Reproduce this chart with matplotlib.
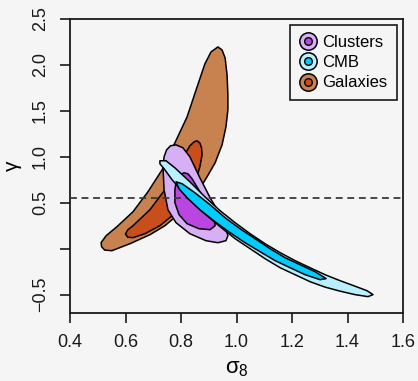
import matplotlib
matplotlib.use("Agg")
import matplotlib.pyplot as plt
from matplotlib.lines import Line2D

plt.rcParams['font.family'] = ['Liberation Sans', 'DejaVu Sans']

# contour outlines (sigma_8, gamma)
gal_outer_x = [0.933, 0.948, 0.959, 0.966, 0.969, 0.969, 0.962, 0.948, 0.923, 0.894,
               0.861, 0.825, 0.789, 0.742, 0.688, 0.616, 0.551, 0.525, 0.514, 0.512, 0.530,
               0.569, 0.627, 0.681, 0.732, 0.778, 0.822, 0.858, 0.886, 0.908]
gal_outer_y = [2.196, 2.163, 2.076, 1.891, 1.674, 1.511, 1.326, 1.130, 0.935, 0.783,
               0.620, 0.478, 0.370, 0.250, 0.152, 0.054, -0.022, -0.015, 0.020, 0.065, 0.141,
               0.239, 0.402, 0.620, 0.859, 1.152, 1.435, 1.761, 2.011, 2.141]
gal_inner_x = [0.858, 0.868, 0.874, 0.876, 0.868, 0.854, 0.829, 0.796, 0.768, 0.724, 0.670,
               0.627, 0.608, 0.600, 0.608, 0.627, 0.688, 0.750, 0.796, 0.832, 0.848]
gal_inner_y = [1.174, 1.150, 1.100, 1.022, 0.891, 0.750, 0.609, 0.467, 0.359, 0.250, 0.163,
               0.120, 0.125, 0.160, 0.205, 0.250, 0.424, 0.674, 0.935, 1.120, 1.165]

clu_outer_x = [0.782, 0.762, 0.748, 0.739, 0.735, 0.739, 0.753, 0.782, 0.832, 0.890, 0.933,
               0.962, 0.969, 0.959, 0.937, 0.905, 0.868, 0.832, 0.807]
clu_outer_y = [1.130, 1.120, 1.075, 1.000, 0.891, 0.641, 0.424, 0.283, 0.163, 0.087, 0.065,
               0.087, 0.141, 0.250, 0.391, 0.554, 0.772, 1.000, 1.098]
clu_inner_x = [0.811, 0.795, 0.783, 0.778, 0.778, 0.793, 0.822, 0.865, 0.905, 0.923, 0.919,
               0.897, 0.868, 0.840, 0.825]
clu_inner_y = [0.826, 0.800, 0.740, 0.641, 0.500, 0.370, 0.272, 0.217, 0.207, 0.250, 0.337,
               0.467, 0.620, 0.761, 0.815]

cmb_outer_x = [0.724, 0.746, 0.778, 0.832, 0.886, 0.941, 0.995, 1.049, 1.103, 1.157,
               1.211, 1.265, 1.319, 1.373, 1.427, 1.470, 1.492,
               1.474, 1.427, 1.373, 1.319, 1.265, 1.211, 1.157, 1.103, 1.049, 0.995,
               0.941, 0.886, 0.832, 0.796, 0.768, 0.739, 0.724]
cmb_outer_y = [0.957, 0.957, 0.880, 0.728, 0.565, 0.413, 0.283, 0.163, 0.054, -0.043,
               -0.130, -0.207, -0.283, -0.348, -0.408, -0.457, -0.500,
               -0.522, -0.500, -0.462, -0.418, -0.359, -0.283, -0.207, -0.109, 0.000, 0.109,
               0.239, 0.380, 0.533, 0.652, 0.750, 0.870, 0.924]
cmb_inner_x = [0.782, 0.804, 0.850, 0.905, 0.959, 1.013, 1.067, 1.121, 1.175, 1.229,
               1.283, 1.323, 1.301, 1.247, 1.193, 1.139, 1.085, 1.031, 0.977, 0.923,
               0.868, 0.822, 0.793]
cmb_inner_y = [0.728, 0.707, 0.609, 0.478, 0.337, 0.217, 0.109, 0.000, -0.098, -0.174,
               -0.250, -0.326, -0.337, -0.283, -0.207, -0.130, -0.033, 0.065, 0.174, 0.293,
               0.424, 0.554, 0.652]

gamma_ref = 0.55

series = ['Clusters', 'CMB', 'Galaxies']
outer_colors = ['#D7AFF5', '#B9F0FF', '#C8824F']
inner_colors = ['#B946E1', '#00CCFF', '#C84E1C']

xticks = [0.4, 0.6, 0.8, 1.0, 1.2, 1.4, 1.6]
yticks = [-0.5, 0.0, 0.5, 1.0, 1.5, 2.0, 2.5]
ytick_labels = ['\u22120.5', '', '0.5', '1.0', '1.5', '2.0', '2.5']

bg = '#F5F5F5'
fig = plt.figure(figsize=(4.18, 3.81), dpi=100, facecolor=bg)
ax = fig.add_axes([70 / 418, 1 - 313 / 381, 333 / 418, 294 / 381], facecolor=bg)

kw = dict(edgecolor='black', linewidth=1.1, joinstyle='round')
ax.fill(gal_outer_x, gal_outer_y, facecolor=outer_colors[2], zorder=1, **kw)
ax.fill(gal_inner_x, gal_inner_y, facecolor=inner_colors[2], zorder=2, **kw)
ax.fill(clu_outer_x, clu_outer_y, facecolor=outer_colors[0], zorder=3, **kw)
ax.fill(clu_inner_x, clu_inner_y, facecolor=inner_colors[0], zorder=4, **kw)
ax.axhline(gamma_ref, color='#3a3a3a', lw=1.3, dashes=(3.8, 2.6), zorder=5)
ax.fill(cmb_outer_x, cmb_outer_y, facecolor=outer_colors[1], zorder=6, **kw)
ax.fill(cmb_inner_x, cmb_inner_y, facecolor=inner_colors[1], zorder=7, **kw)

ax.set_xlim(0.4, 1.6)
ax.set_ylim(-0.7, 2.5)
ax.set_xticks(xticks)
ax.set_xticklabels([f'{v:.1f}' for v in xticks], fontsize=13)
ax.set_yticks(yticks)
ax.set_yticklabels(ytick_labels, fontsize=13, rotation=90, va='center')
ax.tick_params(direction='out', length=7.2, width=1.2, pad=8, colors='#1a1a1a')
for s in ax.spines.values():
    s.set_linewidth(1.3)
    s.set_color('#1a1a1a')

ax.set_xlabel(r'$\mathregular{\sigma_8}$', fontsize=16, labelpad=5)
ax.set_ylabel('\u03b3', fontsize=15, labelpad=7)

handles = []
for oc, ic in zip(outer_colors, inner_colors):
    h_out = Line2D([], [], marker='o', ls='none', ms=12.5, mfc=oc, mec='black', mew=1.1)
    h_in = Line2D([], [], marker='o', ls='none', ms=5.5, mfc=ic, mec='black', mew=1.0)
    handles.append((h_out, h_in))
leg = ax.legend(handles, series, loc='upper right', fontsize=12, frameon=True,
                fancybox=False, edgecolor='#1a1a1a', facecolor=bg, framealpha=1,
                handlelength=0.9, handletextpad=0.4, borderpad=0.6, labelspacing=0.32,
                borderaxespad=0.35)
leg.get_frame().set_linewidth(1.2)

fig.savefig('out.png', dpi=100, facecolor=bg)
